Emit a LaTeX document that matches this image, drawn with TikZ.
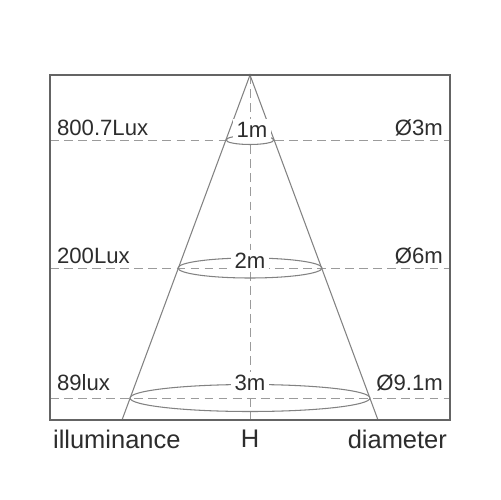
\documentclass[tikz,border=0pt]{standalone}
\usepackage{fontspec}
\setmainfont{Liberation Sans}
\definecolor{lc}{RGB}{130,130,130}
\definecolor{fc}{RGB}{100,100,100}
\definecolor{tc}{RGB}{45,45,45}
\begin{document}
\begin{tikzpicture}[x=0.02cm,y=-0.02cm,
  dsh/.style={draw=lc!80,dashed,dash pattern=on 5pt off 3pt,line width=0.5pt},
  cone/.style={draw=lc,line width=0.6pt},
  lbl/.style={font=\fontsize{12.6}{14}\selectfont,text=tc,inner sep=1pt},
  blbl/.style={lbl,font=\fontsize{14.5}{16}\selectfont},
  mlbl/.style={lbl,fill=white,inner sep=2pt}]
\useasboundingbox (0,0) rectangle (500,500);
\fill[white] (0,0) rectangle (500,500);
% dashed lines
\coordinate (tl) at (50,75);
\coordinate (br) at (450,420);
\draw[dsh] (50,140) -- (450,140);
\draw[dsh] (50,268) -- (450,268);
\draw[dsh] (50,398) -- (450,398);
\draw[dsh] (250,75) -- (250,420);
% cone
\coordinate (apex) at (250,75);
\coordinate (bl) at (122,420);
\coordinate (brc) at (378,420);
\draw[cone] (bl) -- (apex) -- (brc);
% ellipses
\draw[cone] (250,140) ellipse (24 and 4.5);
\draw[cone] (250,268) ellipse (72 and 10);
\draw[cone] (250,398) ellipse (120 and 13.5);
% frame
\draw[draw=fc,line width=0.8pt] (tl) rectangle (br);
% middle labels
\node[mlbl] (m1) at (252,130) {1m};
\node[mlbl] (m2) at (250,261) {2m};
\node[mlbl] (m3) at (250,383) {3m};
% left labels
\node[lbl,anchor=west] (l1) at (55,128) {800.7Lux};
\node[lbl,anchor=west] (l2) at (55,256) {200Lux};
\node[lbl,anchor=west] (l3) at (55,383) {89lux};
% right labels
\node[lbl,anchor=east] (r1) at (445,128) {Ø3m};
\node[lbl,anchor=east] (r2) at (445,256) {Ø6m};
\node[lbl,anchor=east] (r3) at (445,383) {Ø9.1m};
% bottom labels
\node[blbl,anchor=west] (b1) at (51,439) {illuminance};
\node[blbl] (b2) at (250,439) {H};
\node[blbl,anchor=east] (b3) at (449,439) {diameter};
\end{tikzpicture}
\end{document}
